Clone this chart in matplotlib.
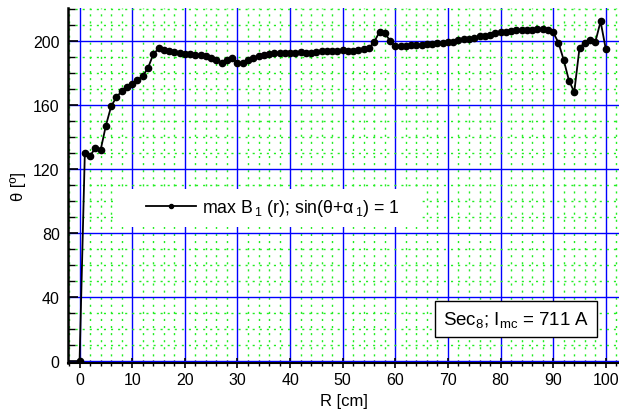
import matplotlib
matplotlib.use("Agg")
import matplotlib.pyplot as plt
from matplotlib.patches import Rectangle
from matplotlib.ticker import MultipleLocator

plt.rcParams["font.family"] = ["Liberation Sans", "DejaVu Sans"]
plt.rcParams["mathtext.fontset"] = "custom"
plt.rcParams["mathtext.rm"] = "Liberation Sans"
plt.rcParams["mathtext.it"] = "Liberation Sans"
plt.rcParams["mathtext.default"] = "regular"

# Radius [cm]
r_cm = list(range(0, 101))

# Phase angle of the maximum of B1 [deg]
theta_deg = [
    0.0, 130.0, 128.0, 133.0, 131.7, 147.0, 159.0, 164.8, 168.4, 171.0,
    173.0, 175.4, 178.0, 183.0, 191.5, 195.2, 194.2, 193.4, 192.8, 192.4,
    192.0, 191.6, 191.4, 190.8, 190.2, 189.4, 187.9, 186.0, 187.7, 189.0,
    185.9, 186.3, 187.9, 189.2, 190.2, 191.0, 191.9, 192.3, 192.5, 192.3,
    192.3, 192.5, 192.7, 192.5, 192.3, 192.9, 193.5, 193.3, 193.4, 193.8,
    194.0, 193.8, 193.4, 194.2, 194.6, 195.4, 199.4, 205.6, 204.8, 200.0,
    196.5, 196.7, 196.9, 197.1, 197.3, 197.5, 197.7, 198.0, 198.4, 198.6,
    199.0, 199.4, 200.2, 201.1, 201.3, 201.9, 202.7, 203.1, 203.7, 204.6,
    205.2, 205.6, 206.1, 206.5, 206.7, 206.7, 206.9, 207.1, 207.3, 206.9,
    205.2, 198.8, 187.9, 175.0, 168.0, 195.7, 198.8, 200.4, 199.2, 212.1,
    194.6,
]

x_ticks = [0, 10, 20, 30, 40, 50, 60, 70, 80, 90, 100]
y_ticks = [0, 40, 80, 120, 160, 200]

series_label = r"max B$_{\,1}$ (r); sin(θ+α$_{\,1}$) = 1"
info_text = r"Sec$_{8}$; I$_{mc}$ = 711 A"

W, H = 619, 414
fig = plt.figure(figsize=(W / 100, H / 100), dpi=100)
ax = fig.add_axes([68 / W, 50 / H, (W - 68) / W, 355 / H])

ax.set_xlim(-2.2, 102.5)
ax.set_ylim(-1.5, 220.5)

ax.set_xticks(x_ticks)
ax.set_yticks(y_ticks)
ax.xaxis.set_minor_locator(MultipleLocator(2))
ax.yaxis.set_minor_locator(MultipleLocator(10))

ax.grid(which="minor", color="#22ee22", linestyle=(0, (1.5, 3.6)), linewidth=1.0)
ax.grid(which="major", color="#0000ff", linestyle="-", linewidth=1.0)
ax.set_axisbelow(True)

for side in ("top", "right"):
    ax.spines[side].set_visible(False)
ax.spines["left"].set_linewidth(1.8)
ax.spines["bottom"].set_linewidth(1.5)

ax.tick_params(axis="x", which="major", direction="inout", length=7, width=1.2,
               labelsize=11.5, pad=3)
ax.tick_params(axis="x", which="minor", direction="inout", length=5, width=1.0)
ax.tick_params(axis="y", which="major", direction="in", length=7, width=1.2,
               labelsize=11.5, pad=6)
ax.tick_params(axis="y", which="minor", direction="in", length=5, width=1.0)

line, = ax.plot(r_cm, theta_deg, color="black", linewidth=1.3, marker="o",
                markersize=4.5, zorder=5, label=series_label)

ax.set_xlabel("R [cm]", fontsize=12, labelpad=4)
ax.set_ylabel("θ [º]", fontsize=12, labelpad=5)

# white panel behind the legend
x0 = (113 - 68) / (W - 68)
x1 = (418 - 68) / (W - 68)
y0 = 1 - (228 - 9) / 355
y1 = 1 - (190 - 9) / 355
ax.add_patch(Rectangle((x0, y0), x1 - x0, y1 - y0, transform=ax.transAxes,
                       facecolor="white", edgecolor="none", zorder=3))
ax.legend(handles=[line], loc="center left",
          bbox_to_anchor=((146 - 68) / (W - 68), (y0 + y1) / 2),
          frameon=False, fontsize=12.8, handlelength=2.8, handletextpad=0.35,
          borderpad=0, borderaxespad=0, markerscale=0.65)

ax.text((516 - 68) / (W - 68), 1 - (320 - 9) / 355, info_text,
        transform=ax.transAxes, ha="center", va="center", fontsize=13.5,
        zorder=6,
        bbox=dict(boxstyle="square,pad=0.42", facecolor="white",
                  edgecolor="black", linewidth=1.0))

fig.savefig("out.png", dpi=100)
